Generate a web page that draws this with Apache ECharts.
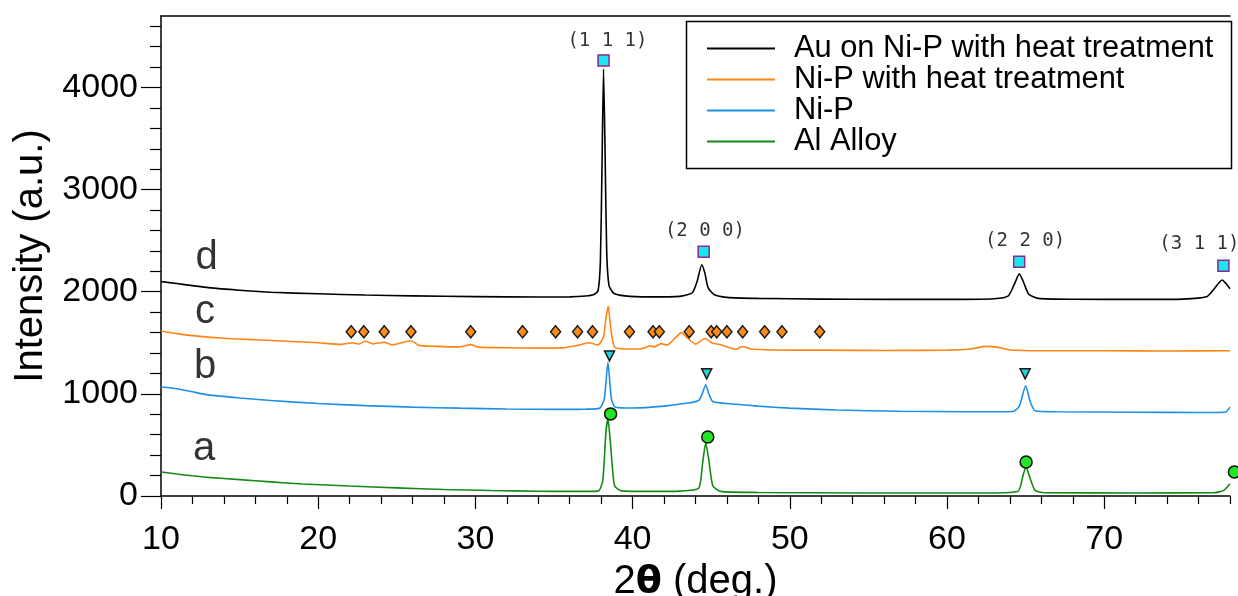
<!DOCTYPE html>
<html>
<head>
<meta charset="utf-8">
<script src="https://cdn.jsdelivr.net/npm/echarts@6/dist/echarts.min.js"></script>
<style>
  html, body { margin: 0; padding: 0; background: #fff; }
  #chart { width: 1238px; height: 596px; }
</style>
</head>
<body>
<div id="chart"></div>
<script>
// tick values
const xMajorTicks = [10, 20, 30, 40, 50, 60, 70];
const xMinorTicks = [12, 14, 16, 18, 22, 24, 26, 28, 32, 34, 36, 38, 42, 44, 46, 48,
  52, 54, 56, 58, 62, 64, 66, 68, 72, 74, 76, 78];
const yMajorTicks = [0, 1000, 2000, 3000, 4000];
const yMinorTicks = [200, 400, 600, 800, 1200, 1400, 1600, 1800, 2200, 2400, 2600, 2800,
  3200, 3400, 3600, 3800, 4200, 4400, 4600];

const seriesNames = ['Au on Ni-P with heat treatment', 'Ni-P with heat treatment', 'Ni-P', 'Al Alloy'];

// d : Au on Ni-P, heat treated  [2theta, intensity]
const auNiPHeat = [
  [10, 2100], [11, 2080], [12, 2060], [13, 2040], [15, 2015], [17, 1995], [20, 1980],
  [23, 1968], [26, 1960], [30, 1952], [34, 1948], [36, 1950], [37, 1958], [37.5, 1970],
  [37.8, 2010], [37.95, 2300], [38.05, 3200], [38.15, 4180], [38.25, 3350], [38.35, 2400],
  [38.5, 2060], [38.8, 1985], [39.5, 1960], [41, 1950], [43, 1955], [43.8, 1990],
  [44.1, 2100], [44.4, 2265], [44.6, 2180], [44.8, 2040], [45.2, 1970], [46, 1945],
  [48, 1935], [52, 1928], [56, 1925], [60, 1925], [63, 1932], [63.9, 1960], [64.3, 2080],
  [64.6, 2175], [64.85, 2100], [65.2, 1975], [65.8, 1935], [68, 1926], [72, 1925],
  [75, 1928], [76.5, 1950], [77.0, 2030], [77.5, 2115], [77.8, 2070], [78, 2030]
];

// c : Ni-P, heat treated
const niPHeat = [
  [10, 1615], [11, 1590], [12, 1570], [14, 1545], [16, 1530], [18, 1515], [20, 1500],
  [21.5, 1485], [22.2, 1500], [22.6, 1488], [23.0, 1515], [23.5, 1490], [24.2, 1505],
  [24.7, 1480], [25.9, 1520], [26.4, 1475], [27.5, 1465], [29.0, 1460], [29.7, 1482],
  [30.2, 1458], [32, 1452], [34, 1448], [35.5, 1450], [36.5, 1475], [37.2, 1500],
  [37.8, 1480], [38.15, 1560], [38.3, 1740], [38.45, 1860], [38.6, 1650], [38.85, 1460],
  [39.5, 1440], [40.5, 1440], [41.1, 1470], [41.4, 1460], [41.8, 1492], [42.2, 1478],
  [42.6, 1530], [43.1, 1600], [43.5, 1545], [44.0, 1487], [44.6, 1542], [45.1, 1495],
  [45.5, 1485], [45.9, 1465], [46.6, 1438], [47.0, 1464], [47.5, 1440], [49, 1430],
  [52, 1428], [56, 1425], [60, 1428], [61.5, 1440], [62.5, 1465], [63.2, 1458],
  [64, 1430], [66, 1422], [70, 1422], [74, 1420], [78, 1422]
];

// b : Ni-P
const niP = [
  [10, 1070], [11, 1050], [12, 1020], [13, 990], [15, 960], [17, 935], [20, 905],
  [23, 885], [26, 870], [29, 860], [32, 852], [35, 848], [37, 850], [37.9, 860],
  [38.2, 950], [38.43, 1310], [38.65, 950], [38.9, 870], [40, 862], [42, 880],
  [43.5, 910], [44.2, 935], [44.45, 1010], [44.65, 1090], [44.85, 1000], [45.1, 925],
  [46, 905], [48, 880], [50, 860], [53, 842], [57, 830], [61, 825], [64.2, 828],
  [64.6, 880], [65.0, 1080], [65.3, 920], [65.6, 835], [67, 825], [72, 820], [76, 818],
  [77.7, 820], [78, 870]
];

// a : Al alloy
const alAlloy = [
  [10, 235], [11, 215], [12, 198], [13, 182], [15, 160], [17, 138], [19, 118], [22, 98],
  [25, 80], [28, 64], [31, 54], [34, 47], [36, 45], [37.8, 48], [38.1, 150], [38.3, 620],
  [38.43, 755], [38.6, 500], [38.85, 100], [39.3, 50], [41, 45], [43, 48], [44.2, 75],
  [44.45, 320], [44.65, 520], [44.85, 350], [45.1, 100], [45.6, 45], [48, 35], [55, 30],
  [62, 30], [64.5, 45], [64.85, 210], [65.03, 285], [65.25, 190], [65.6, 55], [66.2, 32],
  [72, 30], [77, 32], [77.6, 55], [78, 120]
];

// peak markers
const auPeaks = [[38.15, 4265], [44.52, 2392], [64.59, 2294], [77.58, 2255]];
const niPHeatPeaks = [[22.1, 1608], [22.9, 1608], [24.2, 1608], [25.9, 1608], [29.7, 1608],
  [33.0, 1608], [35.1, 1608], [36.5, 1608], [37.45, 1608], [39.8, 1608], [41.3, 1608],
  [41.7, 1608], [43.6, 1608], [45.0, 1608], [45.35, 1608], [46.0, 1608], [47.0, 1608],
  [48.4, 1608], [49.5, 1608], [51.9, 1608]];
const niPPeaks = [[38.53, 1372], [44.71, 1196], [64.97, 1196]];
const alPeaks = [[38.6, 804], [44.78, 578], [65.03, 333], [78.28, 235]];

// annotations
const millerText = ['(1 1 1)', '(2 0 0)', '(2 2 0)', '(3 1 1)'];
const millerAt = [[38.4, 4450], [44.6, 2595], [64.97, 2500], [76.05, 2470]];
const curveText = ['d', 'c', 'b', 'a'];
const curveAt = [[12.9, 2330], [12.8, 1800], [12.8, 1265], [12.75, 460]];

const FONT = 'Liberation Sans';
const chart = echarts.init(document.getElementById('chart'));

const lineSeries = (name, data, color) => ({
  name, type: 'line', data, xAxisIndex: 0, yAxisIndex: 0,
  showSymbol: false, smooth: 0.2, color,
  lineStyle: { color, width: 1.6 }, z: 2
});

const markerSeries = (data, symbol, size, fill, border, rotate) => ({
  type: 'scatter', data, symbol, symbolSize: size, symbolRotate: rotate || 0,
  clip: false, silent: true, z: 5,
  itemStyle: { color: fill, borderColor: border, borderWidth: 1.5, opacity: 1 }
});

const textSeries = (texts, at, font, size) => ({
  type: 'scatter', symbolSize: 0, clip: false, silent: true, z: 6,
  data: at.map((p, i) => ({ value: p, name: texts[i] })),
  label: {
    show: true, position: 'inside', formatter: '{b}',
    fontFamily: font, fontSize: size, color: '#000'
  }
});

chart.setOption({
  animation: false,
  grid: { left: 161, right: 8, top: 16, bottom: 100, outerBoundsMode: 'none', containLabel: false },
  legend: {
    data: seriesNames, orient: 'vertical', left: 707, top: 33, padding: 0,
    icon: 'rect', itemWidth: 68, itemHeight: 2, itemGap: 0,
    textStyle: { fontFamily: FONT, fontSize: 30.8, color: '#000', lineHeight: 30, padding: [0, 0, 0, 14] }
  },
  graphic: [{
    type: 'rect', left: 684, top: 19, z: 10, silent: true,
    shape: { width: 545, height: 147 },
    style: { fill: 'none', stroke: '#000', lineWidth: 1.5 }
  }],
  xAxis: [
    {
      type: 'value', min: 10, max: 78, position: 'bottom',
      name: '2{t|θ} (deg.)', nameLocation: 'middle', nameGap: 63,
      nameTextStyle: {
        fontFamily: FONT, fontSize: 40, color: '#000',
        rich: { t: { fontFamily: 'DejaVu Sans', fontWeight: 'bold', fontSize: 38, color: '#000' } }
      },
      axisLine: { show: true, onZero: false, lineStyle: { color: '#000', width: 1.5 } },
      axisTick: { show: true, length: 13, customValues: xMajorTicks, lineStyle: { color: '#000', width: 1.2 } },
      axisLabel: { customValues: xMajorTicks, fontFamily: FONT, fontSize: 34, color: '#000', margin: 27 },
      splitLine: { show: false }
    },
    {
      type: 'value', min: 10, max: 78, position: 'bottom',
      axisLine: { show: false, onZero: false },
      axisTick: { show: true, length: 8, customValues: xMinorTicks, lineStyle: { color: '#000', width: 1.2 } },
      axisLabel: { show: false }, splitLine: { show: false }
    },
    {
      type: 'value', min: 10, max: 78, position: 'top',
      axisLine: { show: true, onZero: false, lineStyle: { color: '#000', width: 1.5 } },
      axisTick: { show: false }, axisLabel: { show: false }, splitLine: { show: false }
    }
  ],
  yAxis: [
    {
      type: 'value', min: 0, max: 4700, position: 'left',
      name: 'Intensity (a.u.)', nameLocation: 'middle', nameGap: 104,
      nameTextStyle: { fontFamily: FONT, fontSize: 40, color: '#000' },
      axisLine: { show: true, onZero: false, lineStyle: { color: '#000', width: 1.5 } },
      axisTick: { show: true, length: 20, customValues: yMajorTicks, lineStyle: { color: '#000', width: 1.2 } },
      axisLabel: {
        customValues: yMajorTicks, fontFamily: FONT, fontSize: 34, color: '#000', margin: 23,
        formatter: v => String(v)
      },
      splitLine: { show: false }
    },
    {
      type: 'value', min: 0, max: 4700, position: 'left',
      axisLine: { show: false, onZero: false },
      axisTick: { show: true, length: 11, customValues: yMinorTicks, lineStyle: { color: '#000', width: 1.2 } },
      axisLabel: { show: false }, splitLine: { show: false }
    }
  ],
  series: [
    lineSeries(seriesNames[0], auNiPHeat, '#000000'),
    lineSeries(seriesNames[1], niPHeat, '#ff8514'),
    lineSeries(seriesNames[2], niP, '#1e8fe6'),
    lineSeries(seriesNames[3], alAlloy, '#138a13'),
    markerSeries(auPeaks, 'rect', 11, '#1ae6f2', '#8c2a8c'),
    markerSeries(niPHeatPeaks, 'diamond', [10, 12], '#ff8c1a', '#1a1a1a'),
    markerSeries(niPPeaks, 'triangle', 10, '#26d3dc', '#1a1a1a', 180),
    markerSeries(alPeaks, 'circle', 12, '#22e622', '#111'),
    textSeries(millerText, millerAt, 'DejaVu Sans Mono', 19),
    textSeries(curveText, curveAt, FONT, 40)
  ]
});
</script>
</body>
</html>
